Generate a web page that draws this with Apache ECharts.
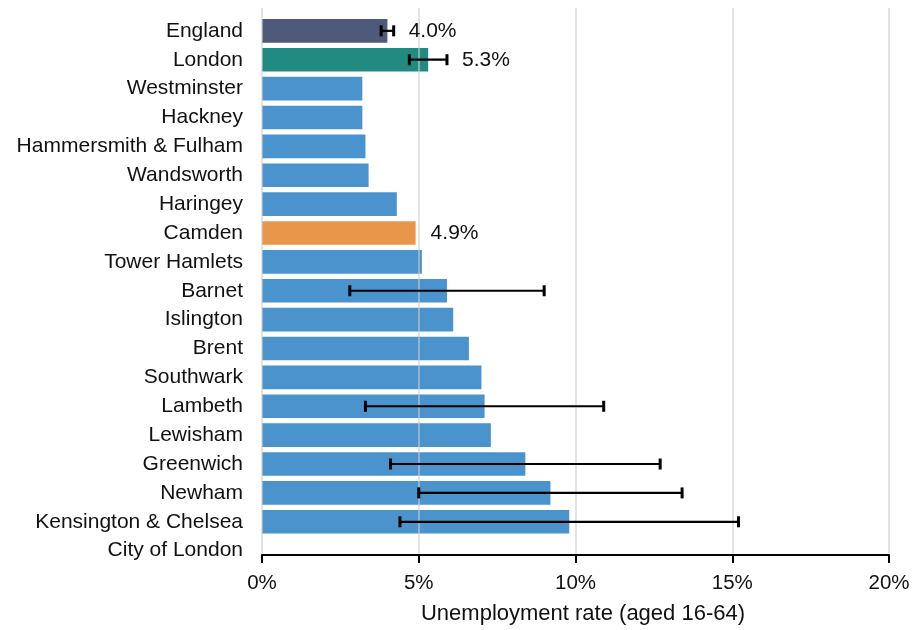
<!DOCTYPE html>
<html>
<head>
<meta charset="utf-8">
<title>Unemployment rate by area</title>
<script src="https://cdn.jsdelivr.net/npm/echarts@6/dist/echarts.min.js"></script>
<style>
  html, body { margin: 0; padding: 0; background: #fff; }
  #chart { width: 915px; height: 630px; }
</style>
</head>
<body>
<div id="chart"></div>
<script>
// Areas, top to bottom
const categories = [
  'England', 'London', 'Westminster', 'Hackney', 'Hammersmith & Fulham',
  'Wandsworth', 'Haringey', 'Camden', 'Tower Hamlets', 'Barnet',
  'Islington', 'Brent', 'Southwark', 'Lambeth', 'Lewisham',
  'Greenwich', 'Newham', 'Kensington & Chelsea', 'City of London'
];

// Unemployment rate (%), aged 16-64
const rates = [4.0, 5.3, 3.2, 3.2, 3.3, 3.4, 4.3, 4.9, 5.1, 5.9,
               6.1, 6.6, 7.0, 7.1, 7.3, 8.4, 9.2, 9.8, null];

// Confidence interval bounds (%), null where not shown
const lower = [3.8, 4.7, null, null, null, null, null, null, null, 2.8,
               null, null, null, 3.3, null, 4.1, 5.0, 4.4, null];
const upper = [4.2, 5.9, null, null, null, null, null, null, null, 9.0,
               null, null, null, 10.9, null, 12.7, 13.4, 15.2, null];

// Axis ticks
const xTicks = [0, 5, 10, 15, 20];

// Areas with a value label
const labelled = ['England', 'London', 'Camden'];

const FONT = "'Liberation Sans', Arial, Helvetica, sans-serif";
const TEXT = '#111';
const colours = {
  England: '#4f5a7b',
  London: '#228b81',
  Camden: '#e8964a',
  default: '#4a93cd'
};

const barData = rates.map((v, i) => ({
  value: v,
  itemStyle: { color: colours[categories[i]] || colours.default }
}));

const errData = [];
rates.forEach((v, i) => {
  if (lower[i] != null && upper[i] != null) errData.push([lower[i], upper[i], i]);
});

const labelData = [];
categories.forEach((c, i) => {
  if (labelled.includes(c)) {
    const edge = upper[i] != null ? Math.max(rates[i], upper[i]) : rates[i];
    labelData.push([edge, i, rates[i].toFixed(1) + '%']);
  }
});

const chart = echarts.init(document.getElementById('chart'), null, { renderer: 'canvas' });

chart.setOption({
  animation: false,
  backgroundColor: '#fff',
  grid: [
    // frame for gridlines and the value axis
    { left: 262, right: 26, top: 8, bottom: 71 },
    // rows of bars
    { left: 262, right: 26, top: 16.4, bottom: 64.9 }
  ],
  xAxis: [
    {
      gridIndex: 0,
      type: 'value',
      min: xTicks[0],
      max: xTicks[xTicks.length - 1],
      interval: xTicks[1] - xTicks[0],
      z: 3,
      name: 'Unemployment rate (aged 16-64)',
      nameLocation: 'middle',
      nameGap: 48,
      nameTextStyle: { fontFamily: FONT, fontSize: 22, color: TEXT, padding: [0, 0, 0, 15] },
      axisLine: { show: true, lineStyle: { color: '#000', width: 2 } },
      axisTick: { show: true, length: 8, lineStyle: { color: '#000', width: 2 } },
      axisLabel: {
        margin: 18,
        fontFamily: FONT, fontSize: 20.5, color: TEXT,
        formatter: '{value}%'
      },
      splitLine: { show: true, lineStyle: { color: 'rgba(205,205,205,0.75)', width: 1.5 } }
    },
    {
      gridIndex: 1,
      type: 'value',
      min: xTicks[0],
      max: xTicks[xTicks.length - 1],
      show: false
    }
  ],
  yAxis: [
    { gridIndex: 0, type: 'value', show: false },
    {
      gridIndex: 1,
      type: 'category',
      data: categories,
      inverse: true,
      axisLine: { show: false },
      axisTick: { show: false },
      splitLine: { show: false },
      axisLabel: { margin: 19, fontFamily: FONT, fontSize: 21, color: TEXT, padding: [3, 0, 0, 0] }
    }
  ],
  series: [
    {
      type: 'bar',
      xAxisIndex: 1,
      yAxisIndex: 1,
      data: barData,
      barCategoryGap: '18%',
      z: 2
    },
    {
      type: 'custom',
      xAxisIndex: 1,
      yAxisIndex: 1,
      z: 5,
      data: errData,
      renderItem: function (params, api) {
        const row = api.value(2);
        const p0 = api.coord([api.value(0), row]);
        const p1 = api.coord([api.value(1), row]);
        const cap = 5.5;
        return {
          type: 'group',
          children: [
            { type: 'line', shape: { x1: p0[0], y1: p0[1], x2: p1[0], y2: p1[1] }, style: { stroke: '#000', lineWidth: 2.2 } },
            { type: 'line', shape: { x1: p0[0], y1: p0[1] - cap, x2: p0[0], y2: p0[1] + cap }, style: { stroke: '#000', lineWidth: 3 } },
            { type: 'line', shape: { x1: p1[0], y1: p1[1] - cap, x2: p1[0], y2: p1[1] + cap }, style: { stroke: '#000', lineWidth: 3 } }
          ]
        };
      }
    },
    {
      type: 'custom',
      xAxisIndex: 1,
      yAxisIndex: 1,
      z: 6,
      data: labelData,
      renderItem: function (params, api) {
        const p = api.coord([api.value(0), api.value(1)]);
        return {
          type: 'text',
          x: p[0] + 15,
          y: p[1] + 0.5,
          style: {
            text: labelData[params.dataIndex][2],
            fontFamily: FONT,
            fontSize: 21,
            fill: TEXT,
            align: 'left',
            verticalAlign: 'middle'
          }
        };
      }
    }
  ]
});
</script>
</body>
</html>
